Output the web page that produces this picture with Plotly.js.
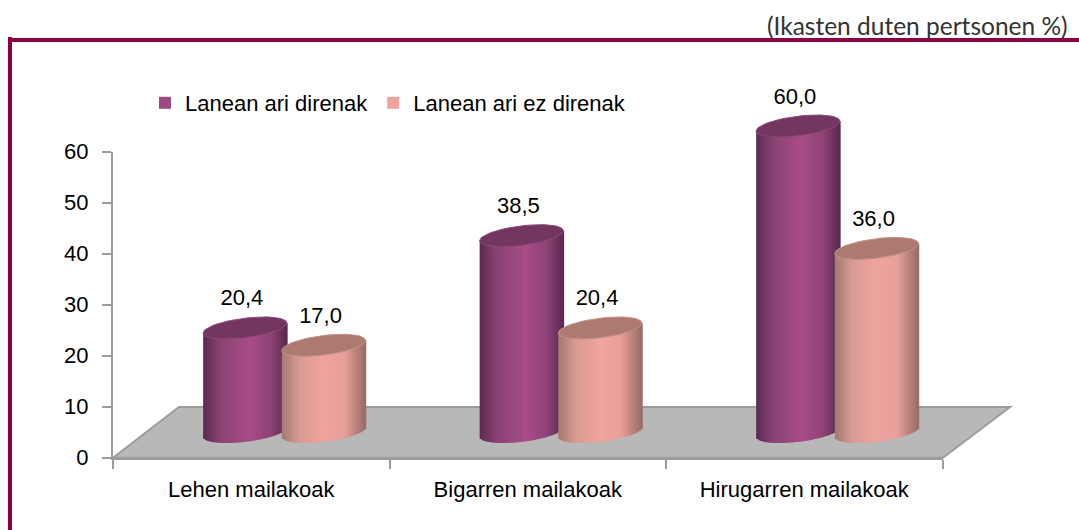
<!DOCTYPE html>
<html>
<head>
<meta charset="utf-8">
<script src="https://cdn.plot.ly/plotly-3.0.1.min.js"></script>
<style>html,body{margin:0;padding:0;background:#fff}</style>
</head>
<body>
<div id="chart" style="width:1079px;height:530px"></div>
<script>
const categories = ["Lehen mailakoak", "Bigarren mailakoak", "Hirugarren mailakoak"];
const seriesNames = ["Lanean ari direnak", "Lanean ari ez direnak"];
const working = [20.4, 38.5, 60.0];
const notWorking = [17.0, 20.4, 36.0];
const tickValues = [0, 10, 20, 30, 40, 50, 60];
const unitLabel = "(Ikasten duten pertsonen %)";

const W = 1079, H = 530;
const FONT = '"Liberation Sans",Arial,sans-serif';
const FS = 22;
const FRAME = "#8a0040", AXIS = "#9c9c9c", FLOOR = "#b8b8b8";
const pxPerUnit = 5.1, pxPerCat = 276.5, R = 41.8, slant = 5, thick = 9.8, STRIPS = 44;
const index = categories.map((_, i) => i);
const fx = p => p / W, fy = p => 1 - p / H;

function hex(c){return [1,3,5].map(i => parseInt(c.substr(i,2),16));}
function ramp(stops, u){
  for (let i = 1; i < stops.length; i++) {
    if (u <= stops[i][0]) {
      const t = (u - stops[i-1][0]) / (stops[i][0] - stops[i-1][0]);
      const a = hex(stops[i-1][1]), b = hex(stops[i][1]);
      return "rgb(" + a.map((v,k) => Math.round(v + (b[k]-v)*t)).join(",") + ")";
    }
  }
  return stops[stops.length-1][1];
}
const looks = [
  {values: working, name: seriesNames[0], center: -39.3, swatch: "#9d4a80", cap: "#733660", rim: "#8a4a74",
   stops: [[-1,"#5c2a52"],[-0.6,"#8a4272"],[0.1,"#a84c88"],[0.6,"#8f4376"],[1,"#582850"]]},
  {values: notWorking, name: seriesNames[1], center: 39.3, swatch: "#f0a4a0", cap: "#ad7a72", rim: "#c49088",
   stops: [[-1,"#a27a72"],[-0.6,"#d79a92"],[0,"#f0a4a0"],[0.5,"#e99f9a"],[1,"#966d66"]]}
];

const traces = [{x: categories, y: categories.map(() => 0), type: "scatter", mode: "markers",
  marker: {opacity: 0}, showlegend: false, hoverinfo: "skip", xaxis: "x", yaxis: "y"}];

looks.forEach(s => {
  traces.push({type: "bar", name: s.name, x: index, y: s.values, xaxis: "x2", yaxis: "y2",
    width: 2*0.7*R/pxPerCat, offset: (s.center - 0.7*R)/pxPerCat,
    marker: {color: s.swatch, line: {width: 0}}, hoverinfo: "skip"});
  const step = 2*R/STRIPS;
  for (let k = 0; k < STRIPS; k++) {
    const left = -R + k*step, u = (left + step/2)/R;
    const edge = (slant*u - thick*Math.sqrt(1 - u*u))/pxPerUnit;
    const rise = slant*u/pxPerUnit;
    traces.push({type: "bar", showlegend: false, x: index,
      y: s.values.map(v => v + rise - edge), base: s.values.map(() => edge),
      xaxis: "x2", yaxis: "y2", width: (step + 0.9)/pxPerCat, offset: (s.center + left)/pxPerCat,
      marker: {color: ramp(s.stops, u), line: {width: 0}}, hoverinfo: "skip"});
  }
});
looks.forEach(s => {
  index.forEach(i => {
    const xs = [], ys = [];
    for (let d = 0; d <= 72; d++) {
      const t = d/72*2*Math.PI;
      xs.push(i + (s.center + R*Math.cos(t))/pxPerCat);
      ys.push(s.values[i] + (slant*Math.cos(t) + thick*Math.sin(t))/pxPerUnit);
    }
    traces.push({type: "scatter", mode: "lines", x: xs, y: ys, fill: "toself", fillcolor: s.cap,
      line: {color: s.rim, width: 1}, xaxis: "x2", yaxis: "y2", showlegend: false, hoverinfo: "skip"});
  });
  traces.push({type: "scatter", mode: "text", x: index.map(i => i + (s.center - 3)/pxPerCat),
    y: s.values.map(v => v + 28/pxPerUnit), text: s.values.map(v => v.toFixed(1).replace(".", ",")),
    textposition: "middle center", textfont: {family: FONT, size: FS, color: "#000"},
    xaxis: "x2", yaxis: "y2", showlegend: false, hoverinfo: "skip"});
});

const rect = (x0, y0, x1, y1) => ({type: "rect", xref: "paper", yref: "paper", x0: fx(x0), x1: fx(x1), y0: fy(y0), y1: fy(y1),
  fillcolor: FRAME, line: {width: 0}, layer: "above"});
const floorPts = [[113,457.7],[179,407],[1010,407],[943,457.7]];
const floorPath = floorPts.map((p,i) => (i ? "L" : "M") + fx(p[0]) + "," + fy(p[1])).join(" ") + " Z";

const layout = {
  width: W, height: H, autosize: false, margin: {l:0, r:0, t:0, b:0},
  paper_bgcolor: "#fff", plot_bgcolor: "rgba(0,0,0,0)",
  barmode: "overlay", showlegend: true,
  legend: {orientation: "h", x: fx(145), xanchor: "left", y: fy(103), yanchor: "middle",
    font: {family: FONT, size: FS, color: "#000"}, bgcolor: "rgba(0,0,0,0)"},
  xaxis: {type: "category", domain: [fx(113), fx(942.5)], range: [-0.5, 2.5], anchor: "y", tickson: "boundaries",
    showgrid: false, zeroline: false, showline: true, linecolor: AXIS, linewidth: 2,
    ticks: "outside", ticklen: 9, tickcolor: AXIS, tickwidth: 2, ticklabelstandoff: 11,
    tickfont: {family: FONT, size: FS, color: "#000"}, fixedrange: true},
  yaxis: {domain: [fy(457.7), fy(151.7)], range: [0, 60], anchor: "x", tickmode: "array", tickvals: tickValues,
    ticktext: tickValues.map(String), showgrid: false, zeroline: false, showline: true, linecolor: AXIS, linewidth: 2,
    ticks: "outside", ticklen: 9, tickcolor: AXIS, tickwidth: 2, ticklabelstandoff: 9,
    tickfont: {family: FONT, size: FS, color: "#000"}, fixedrange: true},
  xaxis2: {domain: [fx(146), fx(975.5)], range: [-0.5, 2.5], anchor: "y2", visible: false, fixedrange: true},
  yaxis2: {domain: [fy(483), fy(75)], range: [-10, 70], anchor: "x2", visible: false, fixedrange: true},
  shapes: [
    {type: "path", xref: "paper", yref: "paper", path: floorPath, fillcolor: FLOOR, line: {color: AXIS, width: 2}, layer: "below"},
    rect(8, 38, W, 42), rect(8, 37, 12, H)
  ],
  annotations: [{xref: "paper", yref: "paper", x: fx(1070), y: fy(26), xanchor: "right", yanchor: "middle", showarrow: false,
    text: unitLabel, font: {family: "Lato, sans-serif", size: 24.5, color: "#333"}}]
};
Plotly.newPlot("chart", traces, layout, {displayModeBar: false, staticPlot: true});
</script>
</body>
</html>
